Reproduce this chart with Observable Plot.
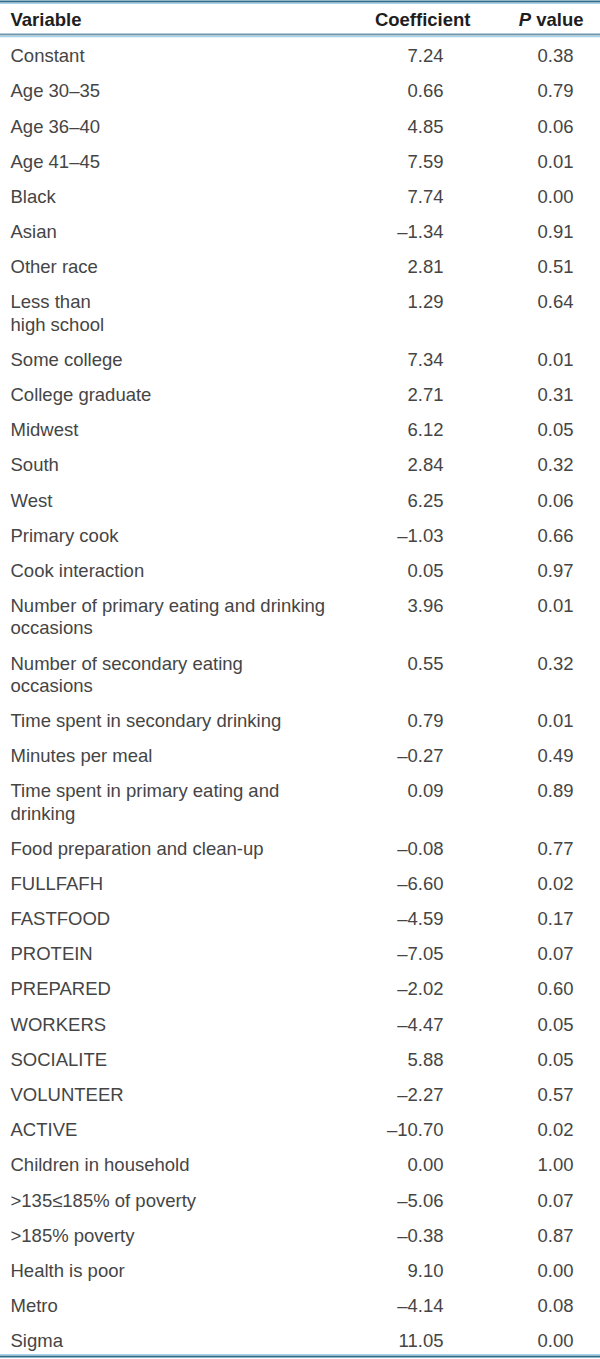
<!DOCTYPE html>
<html>
<head>
<meta charset="utf-8">
<script src="https://cdn.jsdelivr.net/npm/d3@7"></script>
<script src="https://cdn.jsdelivr.net/npm/@observablehq/plot@0.6"></script>
<style>
  html, body { margin: 0; padding: 0; background: #fff; }
  #chart svg { display: block; }
</style>
</head>
<body>
<div id="chart"></div>
<script>
// ---- Data ----
const headers = ["Variable", "Coefficient", "P value"];
const variables = [
  "Constant", "Age 30–35", "Age 36–40", "Age 41–45", "Black", "Asian", "Other race",
  "Less than\nhigh school", "Some college", "College graduate", "Midwest", "South", "West",
  "Primary cook", "Cook interaction",
  "Number of primary eating and drinking\noccasions",
  "Number of secondary eating\noccasions",
  "Time spent in secondary drinking", "Minutes per meal",
  "Time spent in primary eating and\ndrinking",
  "Food preparation and clean-up", "FULLFAFH", "FASTFOOD", "PROTEIN", "PREPARED",
  "WORKERS", "SOCIALITE", "VOLUNTEER", "ACTIVE", "Children in household",
  ">135≤185% of poverty", ">185% poverty", "Health is poor", "Metro", "Sigma"
];
const coefficients = [
  7.24, 0.66, 4.85, 7.59, 7.74, -1.34, 2.81,
  1.29, 7.34, 2.71, 6.12, 2.84, 6.25,
  -1.03, 0.05,
  3.96,
  0.55,
  0.79, -0.27,
  0.09,
  -0.08, -6.60, -4.59, -7.05, -2.02,
  -4.47, 5.88, -2.27, -10.70, 0.00,
  -5.06, -0.38, 9.10, -4.14, 11.05
];
const pValues = [
  0.38, 0.79, 0.06, 0.01, 0.00, 0.91, 0.51,
  0.64, 0.01, 0.31, 0.05, 0.32, 0.06,
  0.66, 0.97,
  0.01,
  0.32,
  0.01, 0.49,
  0.89,
  0.77, 0.02, 0.17, 0.07, 0.60,
  0.05, 0.05, 0.57, 0.02, 1.00,
  0.07, 0.87, 0.00, 0.08, 0.00
];

// ---- Layout (styling, not data) ----
const W = 600, H = 1359;
const fontSize = 18.5;
const layout = {
  headerY: 20, firstRowY: 55.7, rowStep: 35.19, lineStep: 22.2,
  topRule: 1, headerRule: 34, bottomRule: 1356
};

// Build row records
const fmt = d3.format(".2f");
let yCursor = layout.firstRowY;
const rows = variables.map((v, i) => {
  const lines = v.split("\n");
  const r = { variable: v, lines, coef: coefficients[i], p: pValues[i], y: yCursor };
  yCursor += layout.rowStep + (lines.length - 1) * layout.lineStep;
  return r;
});
const labelLines = rows.flatMap(r => r.lines.map((t, j) => ({ text: t, y: r.y + j * layout.lineStep })));
const headerRows = headers.map((h, i) => ({ text: h, col: i, y: layout.headerY }));

const bodyColor = "#454545";
const headColor = "#1e1e1e";
const darkRule = "#2f6f8d";
const lightRule = "#a9d3e6";

const plot = Plot.plot({
  width: W,
  height: H,
  margin: 0,
  x: { domain: [0, W], range: [0, W], axis: null },
  y: { domain: [0, H], range: [0, H], axis: null },
  style: { fontFamily: "'Liberation Sans', Arial, Helvetica, sans-serif", fontSize: fontSize + "px" },
  marks: [
    // rules
    Plot.ruleY([layout.topRule], { stroke: darkRule, strokeWidth: 2 }),
    Plot.ruleY([layout.topRule + 2], { stroke: lightRule, strokeWidth: 1 }),
    Plot.ruleY([layout.headerRule], { stroke: "#6f98ad", strokeWidth: 2 }),
    Plot.ruleY([layout.headerRule + 2], { stroke: lightRule, strokeWidth: 1.5 }),
    Plot.ruleY([layout.bottomRule - 2], { stroke: lightRule, strokeWidth: 1 }),
    Plot.ruleY([layout.bottomRule], { stroke: darkRule, strokeWidth: 2 }),
    // header
    Plot.text(headerRows.filter(d => d.col === 0), {
      y: "y", text: "text", frameAnchor: "left", dx: 10, textAnchor: "start",
      fill: headColor, fontWeight: "bold", lineAnchor: "middle"
    }),
    Plot.text(headerRows.filter(d => d.col === 1), {
      y: "y", text: "text", frameAnchor: "right", dx: -130, textAnchor: "end",
      fill: headColor, fontWeight: "bold", lineAnchor: "middle"
    }),
    Plot.text(headerRows.filter(d => d.col === 2), {
      y: "y", text: "text", frameAnchor: "right", dx: -17, textAnchor: "end",
      fill: headColor, fontWeight: "bold", lineAnchor: "middle", className: "pheader"
    }),
    // body labels
    Plot.text(labelLines, {
      y: "y", text: "text", frameAnchor: "left", dx: 10, textAnchor: "start",
      fill: bodyColor, lineAnchor: "middle"
    }),
    // coefficients
    Plot.text(rows, {
      y: "y", text: d => d3.format(".2f")(d.coef).replace("-", "–").replace("−", "–"),
      frameAnchor: "right", dx: -157, textAnchor: "end", fill: bodyColor, lineAnchor: "middle"
    }),
    // p values
    Plot.text(rows, {
      y: "y", text: d => fmt(d.p),
      frameAnchor: "right", dx: -27, textAnchor: "end", fill: bodyColor, lineAnchor: "middle"
    })
  ]
});

// italicize "P" in the header
d3.select(plot).selectAll("text").each(function () {
  if (this.textContent === "P value") {
    const t = d3.select(this);
    t.text(null);
    t.append("tspan").attr("font-style", "italic").text("P");
    t.append("tspan").text(" value");
  }
});

document.getElementById("chart").appendChild(plot);
</script>
</body>
</html>
